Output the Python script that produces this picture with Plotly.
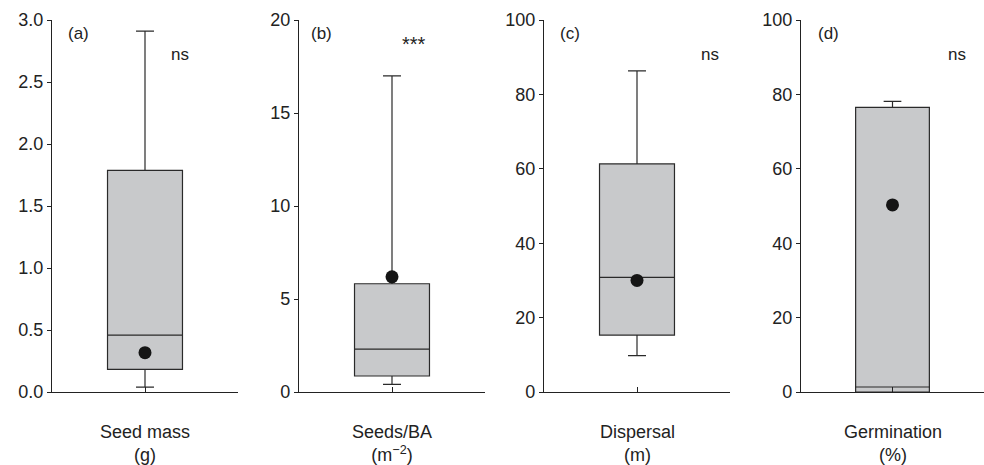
import plotly.graph_objects as go

# ---- data ----
panel_labels = ["(a)", "(b)", "(c)", "(d)"]
cat_names = ["Seed mass", "Seeds/BA", "Dispersal", "Germination"]
cat_units = ["(g)", "(m<sup>\u22122</sup>)", "(m)", "(%)"]
lower_whisker = [0.04, 0.41, 9.8, 0.0]
q1_vals = [0.183, 0.86, 15.3, 0.0]
median_vals = [0.458, 2.31, 30.8, 1.35]
q3_vals = [1.787, 5.82, 61.3, 76.5]
upper_whisker = [2.91, 17.0, 86.3, 78.1]
mean_vals = [0.317, 6.19, 30.0, 50.3]
sig_labels = ["ns", "***", "ns", "ns"]
y_max = [3.0, 20, 100, 100]
y_step = [0.5, 5, 20, 20]
y_fmt = [".1f", "d", "d", "d"]

# ---- styling / layout ----
W, H = 984, 465
FONT = "Liberation Sans, Arial, Helvetica, sans-serif"
FS = 18
axis_left_px = [52, 299, 544, 801]
plot_w_px = 186
y_dom = [1 - 392 / H, 1 - 20 / H]
sig_x = [0.69, 0.62, 0.89, 0.855]
sig_y = [0.906, 0.935, 0.906, 0.906]
letter_x = [0.075, 0.054, 0.075, 0.08]

fig = go.Figure()
layout = dict(
    width=W, height=H, margin=dict(l=0, r=0, t=0, b=0, autoexpand=False),
    paper_bgcolor="white", plot_bgcolor="white",
    showlegend=False, font=dict(family=FONT, size=FS, color="#222"),
    annotations=[],
)

for i in range(4):
    n = "" if i == 0 else str(i + 1)
    xa, ya = "x" + n, "y" + n
    fig.add_trace(go.Box(
        x=[0], q1=[q1_vals[i]], median=[median_vals[i]], q3=[q3_vals[i]],
        lowerfence=[lower_whisker[i]], upperfence=[upper_whisker[i]],
        width=0.806, whiskerwidth=0.24, boxpoints=False,
        fillcolor="#c8c9cb", line=dict(color="#2a2a2a", width=1.2),
        xaxis=xa, yaxis=ya, hoverinfo="skip",
    ))
    fig.add_trace(go.Scatter(
        x=[0], y=[mean_vals[i]], mode="markers",
        marker=dict(color="#151515", size=13),
        xaxis=xa, yaxis=ya, hoverinfo="skip", cliponaxis=False,
    ))
    x0 = axis_left_px[i] / W
    x1 = (axis_left_px[i] + plot_w_px) / W
    layout["xaxis" + n] = dict(
        domain=[x0, min(x1, 1.0)], range=[-1, 1], anchor=ya,
        showline=True, linecolor="#222", linewidth=1.3,
        showgrid=False, zeroline=False, automargin=False,
        tickvals=[0], ticks="inside", ticklen=5,
        tickcolor="#222", tickwidth=1.2, showticklabels=False, fixedrange=True,
    )
    layout["yaxis" + n] = dict(
        domain=y_dom, range=[0, y_max[i]], anchor=xa,
        showline=True, linecolor="#222", linewidth=1.3,
        showgrid=False, zeroline=False, automargin=False,
        tick0=0, dtick=y_step[i], tickformat=y_fmt[i],
        ticks="outside", ticklen=4, tickcolor="#222", tickwidth=1.2,
        tickfont=dict(family=FONT, size=FS, color="#222"), fixedrange=True,
    )
    dom = f"x{n} domain"
    ydom = f"y{n} domain"
    layout["annotations"].append(dict(
        text=panel_labels[i], xref=dom, yref=ydom, x=letter_x[i], y=0.965,
        xanchor="left", yanchor="middle", showarrow=False,
        font=dict(family=FONT, size=FS - 1, color="#222")))
    layout["annotations"].append(dict(
        text=sig_labels[i], xref=dom, yref=ydom, x=sig_x[i], y=sig_y[i],
        xanchor="center", yanchor="middle", showarrow=False,
        font=dict(family=FONT, size=FS + (2 if sig_labels[i] == "***" else -1),
                  color="#222")))
    layout["annotations"].append(dict(
        text=cat_names[i] + "<br>" + cat_units[i], xref=dom, yref="paper",
        x=0.5, y=1 - 420 / H, xanchor="center", yanchor="top",
        showarrow=False, align="center",
        font=dict(family=FONT, size=FS, color="#222")))

fig.update_layout(**layout)
fig.write_html("out.html")
